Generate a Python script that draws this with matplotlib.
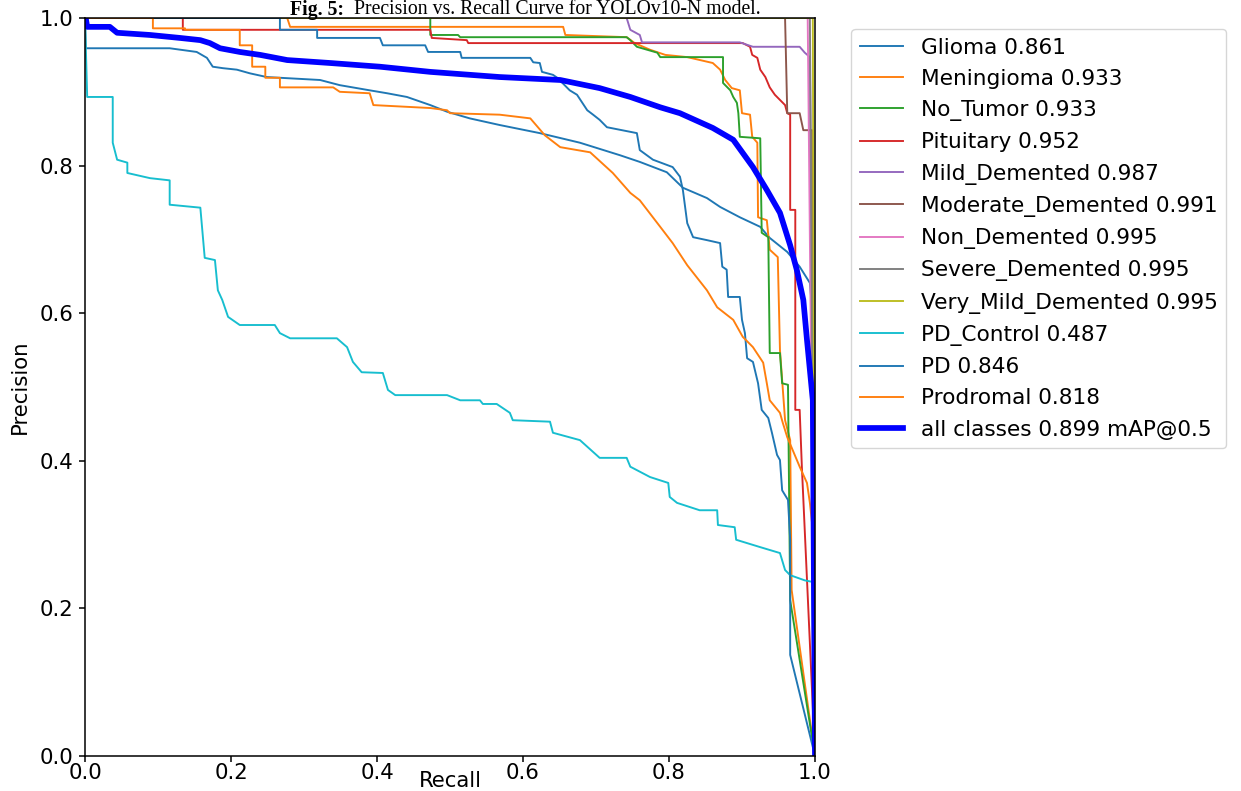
import matplotlib
matplotlib.use("Agg")
import matplotlib.pyplot as plt

# overall size factor for line widths / ticks (figure rendered at 100 dpi)
S = 1.375
FS = 15.3  # axis text size in points
LEG_FS = 15.6  # legend text size in points

class_names = ["Glioma", "Meningioma", "No_Tumor", "Pituitary", "Mild_Demented",
               "Moderate_Demented", "Non_Demented", "Severe_Demented",
               "Very_Mild_Demented", "PD_Control", "PD", "Prodromal"]
class_ap = [0.861, 0.933, 0.933, 0.952, 0.987, 0.991, 0.995, 0.995, 0.995, 0.487, 0.846, 0.818]
map50 = 0.899

glioma_recall = [0, 0.001, 0.116, 0.153, 0.167, 0.175, 0.189, 0.208, 0.226, 0.249, 0.267, 0.322,
                 0.349, 0.390, 0.414, 0.441, 0.473, 0.496, 0.527, 0.568, 0.623, 0.678, 0.733,
                 0.760, 0.797, 0.819, 0.852, 0.870, 0.897, 0.925, 0.938, 0.962, 0.979, 0.993,
                 0.997, 1.0]
glioma_precision = [1.0, 0.959, 0.959, 0.954, 0.946, 0.934, 0.932, 0.930, 0.925, 0.920, 0.919,
                    0.916, 0.909, 0.902, 0.898, 0.893, 0.882, 0.873, 0.864, 0.855, 0.844, 0.831,
                    0.814, 0.805, 0.791, 0.770, 0.756, 0.744, 0.730, 0.717, 0.702, 0.683, 0.663,
                    0.641, 0.595, 0.0]

meningioma_recall = [0, 0.277, 0.281, 0.655, 0.658, 0.742, 0.753, 0.774, 0.795, 0.825, 0.860,
                     0.870, 0.877, 0.886, 0.897, 0.900, 0.911, 0.914, 0.921, 0.922, 0.934, 0.938,
                     0.949, 0.952, 0.959, 0.966, 0.968, 1.0]
meningioma_precision = [1.0, 1.0, 0.988, 0.988, 0.977, 0.974, 0.966, 0.957, 0.950, 0.947, 0.939,
                        0.930, 0.916, 0.905, 0.902, 0.871, 0.869, 0.839, 0.831, 0.730, 0.726,
                        0.686, 0.676, 0.550, 0.455, 0.428, 0.225, 0.0]

no_tumor_recall = [0, 0.473, 0.473, 0.511, 0.514, 0.742, 0.747, 0.756, 0.770, 0.784, 0.788,
                   0.874, 0.874, 0.884, 0.888, 0.893, 0.895, 0.897, 0.925, 0.927, 0.936, 0.938,
                   0.952, 0.955, 0.963, 0.966, 1.0]
no_tumor_precision = [1.0, 1.0, 0.977, 0.977, 0.974, 0.974, 0.970, 0.961, 0.957, 0.953, 0.947,
                      0.947, 0.912, 0.902, 0.893, 0.885, 0.871, 0.839, 0.837, 0.709, 0.703,
                      0.546, 0.546, 0.505, 0.503, 0.211, 0.0]

pituitary_recall = [0, 0.134, 0.134, 0.473, 0.475, 0.523, 0.525, 0.901, 0.911, 0.914, 0.921,
                    0.925, 0.932, 0.938, 0.945, 0.952, 0.959, 0.962, 0.966, 0.966, 0.973, 0.973,
                    0.979, 0.982, 1.0]
pituitary_precision = [1.0, 1.0, 0.984, 0.984, 0.973, 0.970, 0.966, 0.966, 0.961, 0.950, 0.946,
                       0.930, 0.920, 0.906, 0.896, 0.889, 0.882, 0.871, 0.869, 0.740, 0.740,
                       0.469, 0.469, 0.392, 0.0]

mild_recall = [0, 0.742, 0.747, 0.760, 0.763, 0.897, 0.915, 0.979, 0.986, 0.993, 1.0]
mild_precision = [1.0, 1.0, 0.984, 0.977, 0.967, 0.967, 0.961, 0.961, 0.953, 0.947, 0.0]

moderate_recall = [0, 0.959, 0.962, 0.979, 0.984, 0.996, 1.0]
moderate_precision = [1.0, 1.0, 0.871, 0.871, 0.848, 0.848, 0.0]

non_demented_recall = [0, 0.990, 1.0]
non_demented_precision = [1.0, 1.0, 0.0]

severe_recall = [0, 0.993, 1.0]
severe_precision = [1.0, 1.0, 0.0]

very_mild_recall = [0, 0.997, 1.0]
very_mild_precision = [1.0, 1.0, 0.0]

pd_control_recall = [0, 0.003, 0.038, 0.038, 0.044, 0.058, 0.058, 0.089, 0.116, 0.116, 0.158,
                     0.164, 0.178, 0.182, 0.188, 0.196, 0.212, 0.260, 0.267, 0.281, 0.345, 0.359,
                     0.367, 0.379, 0.408, 0.415, 0.425, 0.496, 0.514, 0.541, 0.545, 0.564, 0.582,
                     0.586, 0.637, 0.641, 0.678, 0.705, 0.742, 0.747, 0.774, 0.799, 0.801, 0.811,
                     0.842, 0.866, 0.867, 0.890, 0.892, 0.925, 0.952, 0.959, 0.966, 0.986, 0.996,
                     1.0]
pd_control_precision = [1.0, 0.893, 0.893, 0.831, 0.808, 0.804, 0.790, 0.783, 0.780, 0.747,
                        0.743, 0.675, 0.672, 0.631, 0.618, 0.595, 0.584, 0.584, 0.573, 0.566,
                        0.566, 0.554, 0.534, 0.520, 0.519, 0.496, 0.489, 0.489, 0.482, 0.482,
                        0.477, 0.477, 0.465, 0.455, 0.453, 0.438, 0.428, 0.404, 0.404, 0.392,
                        0.378, 0.370, 0.351, 0.343, 0.333, 0.333, 0.313, 0.310, 0.293, 0.283,
                        0.275, 0.252, 0.245, 0.238, 0.236, 0.0]

pd_recall = [0, 0.267, 0.267, 0.318, 0.318, 0.404, 0.408, 0.466, 0.470, 0.514, 0.516, 0.610,
             0.614, 0.623, 0.626, 0.641, 0.647, 0.664, 0.674, 0.688, 0.696, 0.705, 0.715, 0.756,
             0.760, 0.778, 0.805, 0.815, 0.819, 0.825, 0.833, 0.852, 0.870, 0.873, 0.879, 0.881,
             0.897, 0.900, 0.904, 0.907, 0.915, 0.922, 0.927, 0.936, 0.941, 0.948, 0.952, 0.955,
             0.963, 0.966, 0.966, 1.0]
pd_precision = [1.0, 1.0, 0.984, 0.984, 0.973, 0.973, 0.963, 0.963, 0.954, 0.954, 0.946, 0.946,
                0.940, 0.939, 0.927, 0.923, 0.919, 0.902, 0.896, 0.875, 0.869, 0.862, 0.852,
                0.844, 0.821, 0.808, 0.798, 0.785, 0.767, 0.722, 0.703, 0.699, 0.695, 0.663,
                0.659, 0.622, 0.622, 0.591, 0.573, 0.539, 0.534, 0.505, 0.469, 0.458, 0.438,
                0.408, 0.401, 0.360, 0.347, 0.293, 0.137, 0.0]

prodromal_recall = [0, 0.093, 0.093, 0.137, 0.137, 0.212, 0.212, 0.229, 0.229, 0.247, 0.247,
                    0.267, 0.267, 0.340, 0.349, 0.390, 0.395, 0.473, 0.496, 0.500, 0.568, 0.610,
                    0.630, 0.651, 0.692, 0.723, 0.747, 0.760, 0.788, 0.805, 0.825, 0.852, 0.866,
                    0.888, 0.901, 0.915, 0.929, 0.934, 0.938, 0.952, 0.956, 0.962, 0.979, 0.989,
                    0.993, 0.997, 1.0]
prodromal_precision = [1.0, 1.0, 0.986, 0.986, 0.984, 0.984, 0.963, 0.963, 0.934, 0.934, 0.919,
                       0.919, 0.906, 0.906, 0.900, 0.898, 0.882, 0.878, 0.875, 0.871, 0.869,
                       0.864, 0.841, 0.825, 0.818, 0.790, 0.763, 0.753, 0.717, 0.695, 0.665,
                       0.631, 0.608, 0.591, 0.568, 0.554, 0.533, 0.505, 0.482, 0.465, 0.451,
                       0.432, 0.392, 0.370, 0.343, 0.306, 0.0]

all_recall = [0, 0.001, 0.003, 0.034, 0.044, 0.089, 0.130, 0.158, 0.171, 0.185, 0.212, 0.240,
              0.277, 0.336, 0.404, 0.473, 0.568, 0.651, 0.705, 0.747, 0.788, 0.815, 0.860,
              0.888, 0.915, 0.934, 0.952, 0.966, 0.975, 0.984, 0.989, 0.993, 0.997, 1.0]
all_precision = [1.0, 1.0, 0.988, 0.988, 0.980, 0.977, 0.973, 0.970, 0.966, 0.959, 0.954, 0.950,
                 0.943, 0.939, 0.934, 0.927, 0.920, 0.916, 0.905, 0.893, 0.879, 0.871, 0.851,
                 0.835, 0.798, 0.767, 0.736, 0.692, 0.659, 0.618, 0.564, 0.523, 0.482, 0.0]

class_curves = [
    (glioma_recall, glioma_precision),
    (meningioma_recall, meningioma_precision),
    (no_tumor_recall, no_tumor_precision),
    (pituitary_recall, pituitary_precision),
    (mild_recall, mild_precision),
    (moderate_recall, moderate_precision),
    (non_demented_recall, non_demented_precision),
    (severe_recall, severe_precision),
    (very_mild_recall, very_mild_precision),
    (pd_control_recall, pd_control_precision),
    (pd_recall, pd_precision),
    (prodromal_recall, prodromal_precision),
]

W, H = 1241, 791
fig = plt.figure(figsize=(W / 100, H / 100), dpi=100)
fig.patch.set_facecolor("white")

ax = fig.add_axes([85 / W, 35 / H, 730 / W, 738 / H])

palette = plt.rcParams["axes.prop_cycle"].by_key()["color"]
for i, ((rec, prec), name, ap) in enumerate(zip(class_curves, class_names, class_ap)):
    ax.plot(rec, prec, linewidth=1.0 * S, color=palette[i % len(palette)],
            label=f"{name} {ap:.3f}")

ax.plot(all_recall, all_precision, linewidth=3 * S, color="blue",
        label=f"all classes {map50:.3f} mAP@0.5")

ax.set_xlim(0, 1)
ax.set_ylim(0, 1)
ax.set_xticks([0, 0.2, 0.4, 0.6, 0.8, 1.0])
ax.set_yticks([0, 0.2, 0.4, 0.6, 0.8, 1.0])
ax.tick_params(labelsize=FS, length=3.2 * S, width=0.8 * S)
ax.tick_params(axis="x", pad=0.6)
ax.tick_params(axis="y", pad=3.0 * S)
for sp in ax.spines.values():
    sp.set_linewidth(0.8 * S)
ax.set_xlabel("Recall", fontsize=FS)
ax.set_ylabel("Precision", fontsize=FS)
ax.xaxis.set_label_coords(0.5, -(771 - 756) / 738)
ax.yaxis.set_label_coords(-(85 - 30) / 730, 0.5)

ax.legend(bbox_to_anchor=(1.035, 1), loc="upper left", fontsize=LEG_FS, labelspacing=0.52)

# caption line above the plot
cap_fs = 14.2
t1 = fig.text(290 / W, 1.0, "Fig. 5:", fontsize=cap_fs, fontweight="bold",
              family="Liberation Serif", ha="left", va="top")
fig.canvas.draw()
bb = t1.get_window_extent()
fig.text((bb.x1 + 10) / W, 1.0, "Precision vs. Recall Curve for YOLOv10-N model.",
         fontsize=cap_fs, family="Liberation Serif", ha="left", va="top")

fig.savefig("out.png", dpi=100, facecolor="white")
